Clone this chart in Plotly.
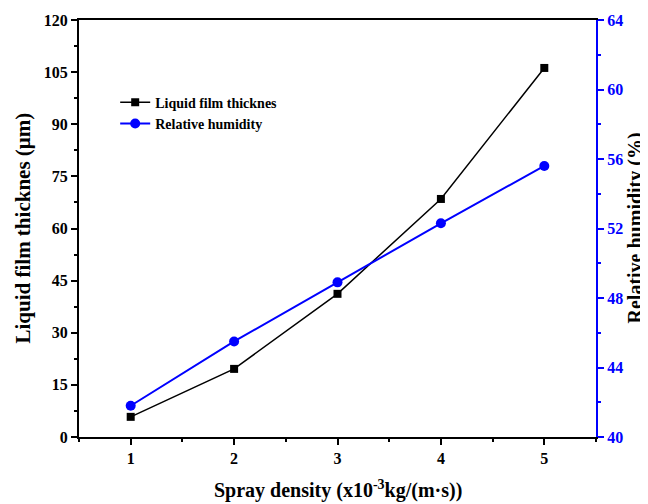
import plotly.graph_objects as go

spray_density = [1, 2, 3, 4, 5]
film_thickness = [5.8, 19.6, 41.2, 68.5, 106.2]
relative_humidity = [41.8, 45.5, 48.9, 52.3, 55.6]

FONT = "Liberation Serif"

fig = go.Figure()
fig.add_trace(go.Scatter(
    x=spray_density, y=film_thickness, name="<b>Liquid film thicknes</b>",
    mode="lines+markers", line=dict(color="black", width=1.5),
    marker=dict(symbol="square", size=8, color="black"),
))
fig.add_trace(go.Scatter(
    x=spray_density, y=relative_humidity, name="<b>Relative humidity</b>",
    mode="lines+markers", line=dict(color="blue", width=2),
    marker=dict(symbol="circle", size=10, color="blue"), yaxis="y2",
))

fig.update_layout(
    width=640, height=496,
    margin=dict(l=71, r=52, t=12, b=67, autoexpand=False),
    paper_bgcolor="white", plot_bgcolor="white",
    font=dict(family=FONT, color="black", size=16),
    showlegend=True,
    legend=dict(x=0.07, y=0.84, xanchor="left", yanchor="top",
                bgcolor="rgba(0,0,0,0)", font=dict(size=14, family=FONT),
                tracegroupgap=0),
    xaxis=dict(
        range=[0.5, 5.5], tickvals=[1, 2, 3, 4, 5],
        ticktext=["<b>1</b>", "<b>2</b>", "<b>3</b>", "<b>4</b>", "<b>5</b>"],
        showline=True, linecolor="black", linewidth=2, mirror=True,
        ticks="outside", ticklen=6, tickwidth=2, tickcolor="black",
        minor=dict(dtick=0.5, tick0=0.5, ticks="outside", ticklen=3, tickwidth=2, tickcolor="black"),
        showgrid=False, zeroline=False, automargin=False,
        tickfont=dict(size=16, family=FONT),
    ),
    yaxis=dict(
        range=[0, 120], tickvals=list(range(0, 121, 15)),
        ticktext=[f"<b>{v}</b>" for v in range(0, 121, 15)],
        showline=True, linecolor="black", linewidth=2,
        ticks="outside", ticklen=6, tickwidth=2, tickcolor="black",
        minor=dict(dtick=7.5, tick0=0, ticks="outside", ticklen=3, tickwidth=2, tickcolor="black"),
        showgrid=False, zeroline=False, automargin=False,
        tickfont=dict(size=16, family=FONT),
    ),
    yaxis2=dict(
        range=[40, 64], tickvals=list(range(40, 65, 4)),
        ticktext=[f"<b>{v}</b>" for v in range(40, 65, 4)],
        overlaying="y", side="right",
        showline=True, linecolor="blue", linewidth=2,
        ticks="outside", ticklen=6, tickwidth=2, tickcolor="blue",
        minor=dict(dtick=2, tick0=40, ticks="outside", ticklen=3, tickwidth=2, tickcolor="blue"),
        showgrid=False, zeroline=False, automargin=False,
        tickfont=dict(size=16, family=FONT, color="blue"),
    ),
    annotations=[
        dict(text="<b>Spray density (x10<sup>-3</sup>kg/(m·s))</b>", xref="paper", yref="paper",
             x=0.5, y=0, yshift=-52, showarrow=False, xanchor="center", yanchor="middle",
             font=dict(size=20, family=FONT, color="black")),
        dict(text="<b>Liquid film thicknes (μm)</b>", xref="paper", yref="paper",
             x=0, y=0.5, xshift=-57, textangle=-90, showarrow=False, xanchor="center", yanchor="middle",
             font=dict(size=21, family=FONT, color="black")),
        dict(text="<b>Relative humidity (%)</b>", xref="paper", yref="paper",
             x=1, y=0.5, xshift=39, textangle=-90, showarrow=False, xanchor="center", yanchor="middle",
             font=dict(size=20, family=FONT, color="black")),
    ],
)

fig.write_html("out.html")
